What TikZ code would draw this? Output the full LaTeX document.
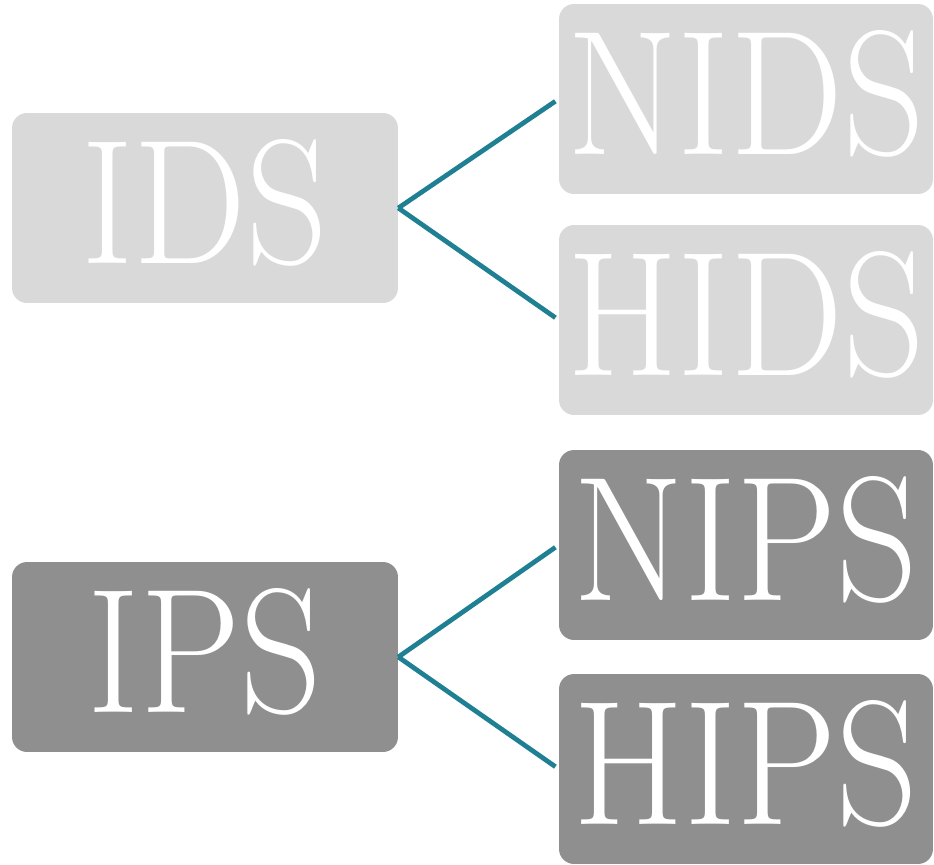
\documentclass[tikz,border=0pt]{standalone}
\usepackage{graphicx}
\usepackage{tikz}

\definecolor{boxlight}{RGB}{217,217,217}
\definecolor{boxdark}{RGB}{143,143,143}
\definecolor{linkteal}{RGB}{31,128,148}
\newcommand{\narrowtxt}[1]{\scalebox{0.9}[1]{#1}}

\tikzset{
  sysbox/.style={rounded corners=0.3cm, inner sep=0pt, text=white,
    minimum height=3.8cm, text depth=0.28cm,
    font=\fontsize{101}{101}\selectfont},
  mainbox/.style={sysbox, minimum width=7.72cm},
  subbox/.style={sysbox, minimum width=7.48cm},
  link/.style={draw=linkteal, line width=2.7pt, shorten >=0.08cm}
}

\begin{document}
\begin{tikzpicture}[x=0.02cm, y=-0.02cm]
\useasboundingbox (0,0) rectangle (934,865);

% detection
\node[mainbox, fill=boxlight] (ids) at (205,208) {\narrowtxt{IDS}};
\node[subbox, fill=boxlight] (nids) at (746,99) {\narrowtxt{NIDS}};
\node[subbox, fill=boxlight] (hids) at (746,320) {\narrowtxt{HIDS}};

% prevention
\node[mainbox, fill=boxdark] (ips) at (205,657) {\narrowtxt{IPS}};
\node[subbox, fill=boxdark] (nips) at (746,545) {\narrowtxt{NIPS}};
\node[subbox, fill=boxdark] (hips) at (746,769) {\narrowtxt{HIPS}};

\draw[link] (ids.east) -- (nids.west);
\draw[link] (ids.east) -- (hids.west);
\draw[link] (ips.east) -- (nips.west);
\draw[link] (ips.east) -- (hips.west);
\end{tikzpicture}
\end{document}
